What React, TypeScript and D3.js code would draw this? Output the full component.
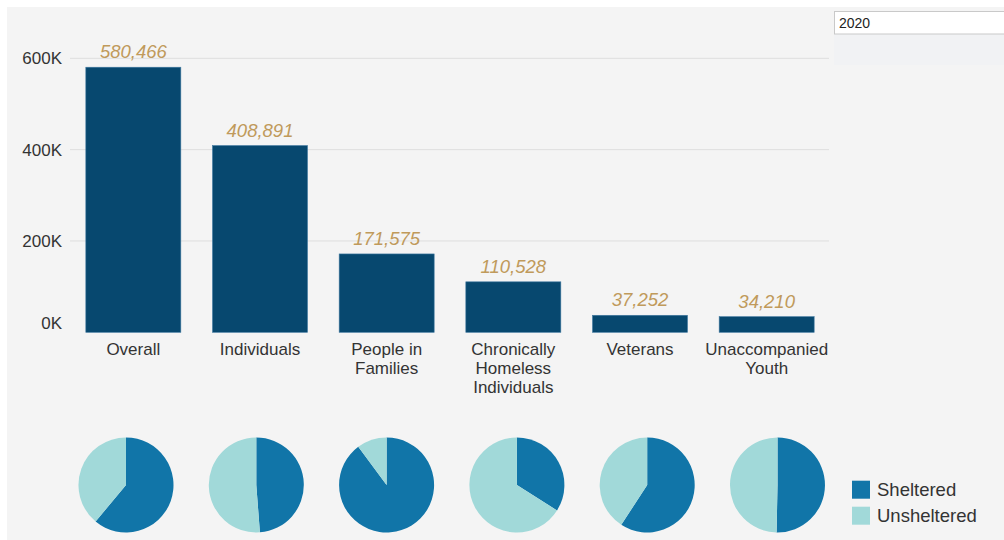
import React, { useEffect, useRef } from "react";
import * as d3 from "d3";

// ---------- Data (2020 PIT count) ----------
const categories = [
  "Overall",
  "Individuals",
  "People in Families",
  "Chronically Homeless Individuals",
  "Veterans",
  "Unaccompanied Youth",
];

const categoryLines = [
  ["Overall"],
  ["Individuals"],
  ["People in", "Families"],
  ["Chronically", "Homeless", "Individuals"],
  ["Veterans"],
  ["Unaccompanied", "Youth"],
];

const totals = [580466, 408891, 171575, 110528, 37252, 34210];
const sheltered = [354386, 199531, 154128, 37580, 22048, 17208];
const unsheltered = [226080, 209360, 17447, 72948, 15204, 17002];

const yTicks = [0, 200000, 400000, 600000];
const legendLabels = ["Sheltered", "Unsheltered"];
const selectedYear = "2020";

const BAR_COLOR = "#07486f";
const SHELTERED_COLOR = "#1175a8";
const UNSHELTERED_COLOR = "#a1d9d9";
const LABEL_COLOR = "#c09a5b";
const TEXT_COLOR = "#333";
const FONT = "'Liberation Sans', Arial, Helvetica, sans-serif";

const App: React.FC = () => {
  const svgRef = useRef<SVGSVGElement | null>(null);
  const width = 1004;
  const height = 540;

  useEffect(() => {
    const svg = d3.select(svgRef.current);
    svg.selectAll("*").remove();

    // background
    svg.append("rect").attr("width", width).attr("height", height).attr("fill", "#fff");
    svg
      .append("rect")
      .attr("x", 7)
      .attr("y", 7)
      .attr("width", width)
      .attr("height", height)
      .attr("fill", "#f4f4f4");

    // Scales
    const x = d3
      .scaleBand<string>()
      .domain(categories)
      .range([70, 830])
      .paddingInner(0.25)
      .paddingOuter(0.125);

    const y = d3.scaleLinear().domain([0, 600000]).range([332.3, 58.3]);

    const g = svg.append("g").style("font-family", FONT);

    // Grid + y labels
    g.selectAll(".grid")
      .data(yTicks.filter((t) => t > 0))
      .enter()
      .append("line")
      .attr("x1", 70)
      .attr("x2", 829)
      .attr("y1", (d) => y(d))
      .attr("y2", (d) => y(d))
      .attr("stroke", "#dedede")
      .attr("stroke-width", 1);

    g.selectAll(".ylab")
      .data(yTicks)
      .enter()
      .append("text")
      .attr("x", 62)
      .attr("y", (d) => (d === 0 ? y(d) - 3.5 : y(d) + 6))
      .attr("text-anchor", "end")
      .attr("font-size", 17)
      .attr("fill", TEXT_COLOR)
      .text((d) => d3.format(".0f")(d / 1000) + "K");

    // Bars
    g.selectAll(".bar")
      .data(categories)
      .enter()
      .append("rect")
      .attr("x", (d) => x(d)!)
      .attr("y", (_, i) => y(totals[i]))
      .attr("width", x.bandwidth())
      .attr("height", (_, i) => y(0) - y(totals[i]))
      .attr("fill", BAR_COLOR)
      .attr("stroke", "#3f78a0")
      .attr("stroke-width", 0.6);

    // Value labels
    g.selectAll(".val")
      .data(categories)
      .enter()
      .append("text")
      .attr("x", (d) => x(d)! + x.bandwidth() / 2)
      .attr("y", (_, i) => y(totals[i]) - 9)
      .attr("text-anchor", "middle")
      .attr("font-size", 18.5)
      .attr("font-style", "italic")
      .attr("fill", LABEL_COLOR)
      .text((_, i) => d3.format(",")(totals[i]));

    // Category labels
    categories.forEach((c, i) => {
      const t = g
        .append("text")
        .attr("x", x(c)! + x.bandwidth() / 2)
        .attr("y", 355)
        .attr("text-anchor", "middle")
        .attr("font-size", 17)
        .attr("fill", TEXT_COLOR);
      categoryLines[i].forEach((line, j) => {
        t.append("tspan")
          .attr("x", x(c)! + x.bandwidth() / 2)
          .attr("dy", j === 0 ? 0 : 19)
          .text(line);
      });
    });

    // Pies
    const px = d3.scalePoint<string>().domain(categories).range([126, 777.5]);
    const pie = d3
      .pie<number>()
      .sort(null)
      .value((d) => d);
    const arc = d3
      .arc<d3.PieArcDatum<number>>()
      .innerRadius(0)
      .outerRadius(47.5);

    categories.forEach((c, i) => {
      const pg = g.append("g").attr("transform", `translate(${px(c)},485)`);
      pg.selectAll("path")
        .data(pie([sheltered[i], unsheltered[i]]))
        .enter()
        .append("path")
        .attr("d", arc)
        .attr("fill", (_, k) => (k === 0 ? SHELTERED_COLOR : UNSHELTERED_COLOR));
    });

    // Legend
    const legend = g.append("g");
    legendLabels.forEach((l, i) => {
      legend
        .append("rect")
        .attr("x", 852)
        .attr("y", 480.7 + i * 26)
        .attr("width", 18)
        .attr("height", 18)
        .attr("fill", i === 0 ? SHELTERED_COLOR : UNSHELTERED_COLOR);
      legend
        .append("text")
        .attr("x", 877)
        .attr("y", 495.7 + i * 26)
        .attr("font-size", 18.5)
        .attr("fill", TEXT_COLOR)
        .text(l);
    });

    // Year dropdown
    svg
      .append("rect")
      .attr("x", 834)
      .attr("y", 34)
      .attr("width", 180)
      .attr("height", 31)
      .attr("fill", "#f1f2f4");
    svg
      .append("rect")
      .attr("x", 834.5)
      .attr("y", 11.5)
      .attr("width", 180)
      .attr("height", 22.5)
      .attr("fill", "#fff")
      .attr("stroke", "#c9c9c9");
    svg
      .append("text")
      .attr("x", 839)
      .attr("y", 28)
      .attr("font-family", FONT)
      .attr("font-size", 14)
      .attr("fill", "#222")
      .text(selectedYear);
  }, []);

  return (
    <svg
      ref={svgRef}
      width={width}
      height={height}
      style={{ position: "absolute", left: 0, top: 0, display: "block" }}
    />
  );
};

export default App;
